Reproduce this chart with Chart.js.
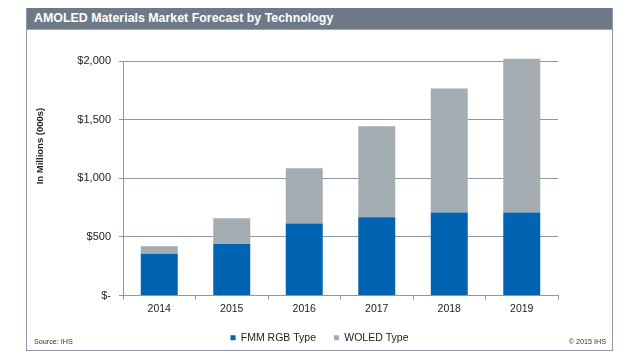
<!DOCTYPE html>
<html><head><meta charset="utf-8">
<script src="https://cdn.jsdelivr.net/npm/chart.js@4/dist/chart.umd.min.js"></script>
<style>
html,body{margin:0;padding:0;background:#fff;width:640px;height:360px;overflow:hidden;font-family:"Liberation Sans",Arial,sans-serif;}
#frame{position:absolute;left:26px;top:8px;width:585px;height:342px;border:1px solid #8e99a8;border-top:none;box-sizing:content-box;}
#header{position:absolute;left:0;top:0;width:585px;height:21px;background:#6e7987;border-bottom:1px solid #9aa4b0;}
#header span{position:absolute;left:7px;top:3px;color:#fff;font-weight:bold;font-size:12.4px;}
#wrap{position:absolute;left:0;top:22px;width:585px;height:323px;}
#ytitle{position:absolute;left:-47.5px;top:130.5px;width:120px;height:14px;line-height:14px;text-align:center;transform:rotate(-90deg);white-space:nowrap;font-weight:bold;font-size:9.5px;color:#222;}
.foot{position:absolute;top:329px;font-size:7.2px;color:#333;}
</style></head>
<body>
<div id="frame">
  <div id="header"><span>AMOLED Materials Market Forecast by Technology</span></div>
  <div id="wrap"><canvas id="c" width="585" height="323"></canvas></div>
  <div id="ytitle">In Millions (000s)</div>
  <div class="foot" style="left:7px">Source: IHS</div>
  <div class="foot" style="right:6px">© 2015 IHS</div>
</div>
<script>
const categories = ['2014','2015','2016','2017','2018','2019'];
const fmmRgb = [356, 439, 615, 667, 707, 707];
const woled = [65, 219, 470, 777, 1059, 1313];
const yTickLabels = ['$-','$500','$1,000','$1,500','$2,000'];
const seriesNames = ['FMM RGB Type','WOLED Type'];

const gridColor = '#8d98a6';
const font = '"Liberation Sans", Arial, sans-serif';
new Chart(document.getElementById('c'), {
  type: 'bar',
  data: {
    labels: categories,
    datasets: [
      {label: seriesNames[0], data: fmmRgb, backgroundColor: '#0064b2', barPercentage: 0.51, categoryPercentage: 1, clip: false},
      {label: seriesNames[1], data: woled, backgroundColor: '#a3acb1', barPercentage: 0.51, categoryPercentage: 1, clip: false}
    ]
  },
  options: {
    responsive: false,
    animation: false,
    devicePixelRatio: 1,
    layout: {padding: {left: 0, right: 0, top: 31, bottom: 0}},
    plugins: {
      legend: {
        position: 'bottom',
        labels: {boxWidth: 5, boxHeight: 5, padding: 18, color: '#222', font: {family: font, size: 10.5}}
      },
      tooltip: {enabled: false}
    },
    scales: {
      x: {
        stacked: true,
        afterFit: s => { s.height = 19; },
        grid: {offset: true, drawOnChartArea: false, drawTicks: true, tickLength: 4, color: gridColor},
        border: {color: gridColor},
        ticks: {padding: 3, color: '#222', font: {family: font, size: 10.5}}
      },
      y: {
        stacked: true,
        min: 0, max: 2000,
        afterFit: s => { s.width = 96; },
        grid: {color: gridColor, tickLength: 4},
        border: {color: gridColor},
        ticks: {stepSize: 500, padding: 8, color: '#222', font: {family: font, size: 11},
          callback: (v, i) => yTickLabels[i]}
      },
      yRight: {
        position: 'right',
        display: true,
        afterFit: s => { s.width = 54; },
        grid: {display: false, drawTicks: false},
        border: {display: false},
        ticks: {display: false}
      }
    }
  }
});
</script>
</body></html>
